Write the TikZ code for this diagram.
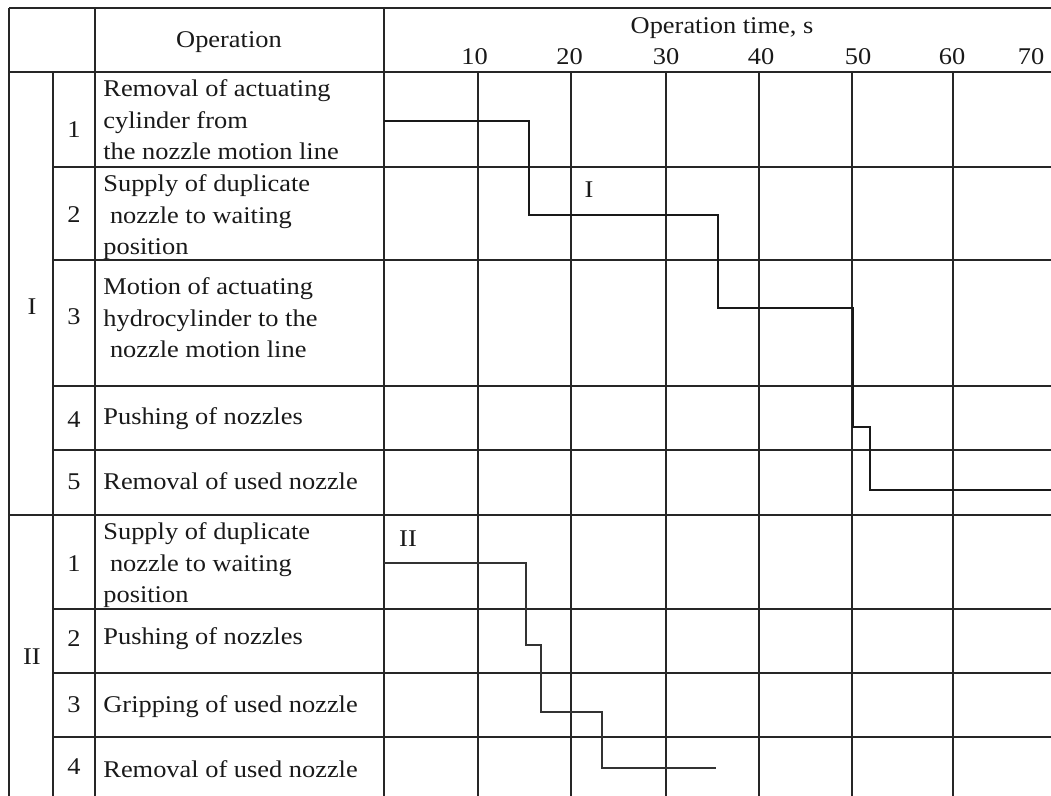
\documentclass[tikz,border=0pt]{standalone}
\usepackage{fontspec}
\setmainfont{Liberation Serif}[FakeStretch=1.1]

\begin{document}
\begin{tikzpicture}[x=0.5pt, y=-0.5pt,
    grid/.style = {draw=black!85, line width=0.7pt},
    frame/.style = {draw=black!85, line width=1.1pt},
    cell/.style = {anchor=base west, align=left, inner sep=0pt},
    num/.style = {anchor=base, inner sep=0pt},
    runI/.style = {draw=black!90, line width=1.3pt},
    runII/.style = {draw=black!80, line width=0.7pt},
    font=\fontsize{12}{15.75}\selectfont, text=black!90]
  \useasboundingbox (0,0) rectangle (1051,796);

  % table frame
  \draw[frame] (9,8) -- (1051,8);
  \draw[grid] (9,8) -- (9,796);
  \draw[grid] (95,8) -- (95,796);
  \draw[grid] (384,8) -- (384,796);
  \draw[grid] (53,72) -- (53,796);
  \draw[grid] (9,72) -- (1051,72);
  \draw[grid] (9,515) -- (1051,515);
  \foreach \y in {167,260,386,450,609,673,737}
    \draw[grid] (53,\y) -- (1051,\y);
  \foreach \x in {478,571,666,759,852,953}
    \draw[grid] (\x,72) -- (\x,796);

  % header
  \node[num] (hdrOp) at (229,48) {Operation};
  \node[num] (hdrTime) at (722,34) {Operation time, s};
  \foreach \t/\x in {10/474.5,20/569.5,30/666,40/761,50/858,60/952,70/1031}
    \node[num] (t\t) at (\x,65) {\t};

  % groups and row numbers
  \node[num] (grpI) at (32,315) {I};
  \node[num] (grpII) at (32,665) {II};
  \foreach \n/\y in {1/138,2/223,3/325,4/428,5/490}
    \node[num] (nI\n) at (74,\y) {\n};
  \foreach \n/\y in {1/572,2/647,3/713,4/775}
    \node[num] (nII\n) at (74,\y) {\n};

  % operations (base = last line)
  \node[cell] (opI1) at (103,160) {Removal of actuating\\cylinder from\\the nozzle motion line};
  \node[cell] (opI2) at (103,255) {Supply of duplicate\\~nozzle to waiting\\position};
  \node[cell] (opI3) at (103,358) {Motion of actuating\\hydrocylinder to the\\~nozzle motion line};
  \node[cell] (opI4) at (103,425) {Pushing of nozzles};
  \node[cell] (opI5) at (103,490) {Removal of used nozzle};
  \node[cell] (opII1) at (103,603) {Supply of duplicate\\~nozzle to waiting\\position};
  \node[cell] (opII2) at (103,645) {Pushing of nozzles};
  \node[cell] (opII3) at (103,713) {Gripping of used nozzle};
  \node[cell] (opII4) at (103,777) {Removal of used nozzle};

  % time runs
  \draw[runI] (384,121) -| (529,215) -| (718,308) -| (853,427) -| (870,490) -- (1051,490);
  \draw[runII] (384,563) -| (526,645) -| (541,712) -| (602,768) -- (716,768);
  \node[num] (lblI) at (589,198) {I};
  \node[num] (lblII) at (408,547) {II};
\end{tikzpicture}
\end{document}
